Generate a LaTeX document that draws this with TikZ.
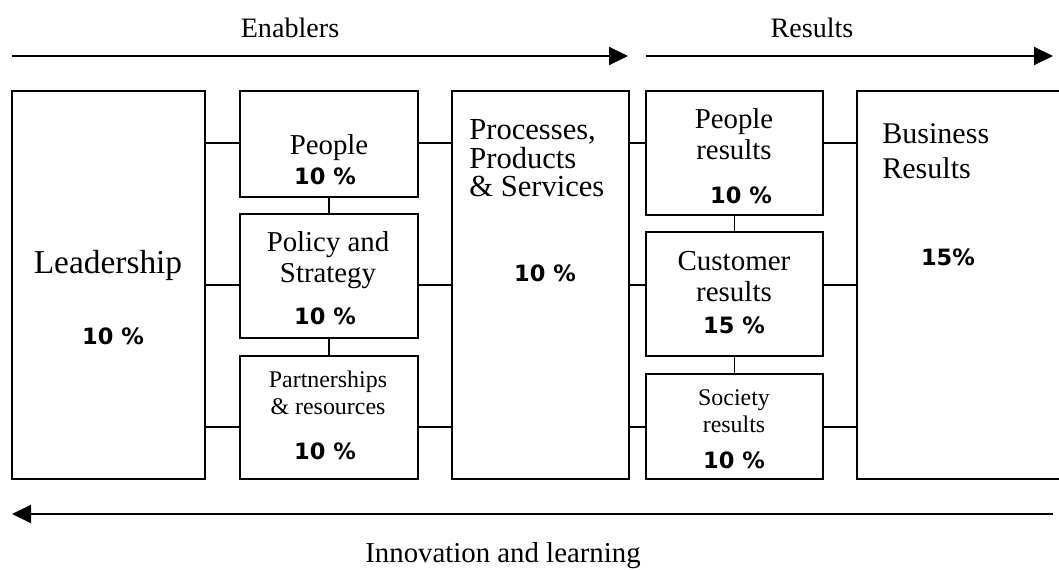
\documentclass[tikz,border=0pt]{standalone}
\usepackage{fontspec}
\setmainfont{Liberation Serif}
\newfontfamily\pctfont{DejaVu Sans}
\usetikzlibrary{arrows.meta}

\tikzset{
  block/.style={draw,line width=1.2pt,inner sep=0pt},
  link/.style={line width=1.1pt},
  flow/.style={line width=1.1pt,-{Triangle[length=0.38cm,width=0.36cm]}},
  pct/.style={font=\pctfont\bfseries\fontsize{12.8}{15}\selectfont,inner sep=0pt},
  lbl/.style={align=center,anchor=base,inner sep=0pt}
}

\begin{document}
\begin{tikzpicture}
  \path[use as bounding box,clip] (0,0) rectangle (21.18,11.4);

  % boxes
  \node[block,minimum width=3.86cm,minimum height=7.76cm] (lead) at (2.17,5.70) {};
  \node[block,minimum width=3.56cm,minimum height=2.12cm] (ppl) at (6.58,8.52) {};
  \node[block,minimum width=3.56cm,minimum height=2.48cm] (pol) at (6.58,5.88) {};
  \node[block,minimum width=3.56cm,minimum height=2.46cm] (part) at (6.58,3.05) {};
  \node[block,minimum width=3.54cm,minimum height=7.76cm] (proc) at (10.81,5.70) {};
  \node[block,minimum width=3.54cm,minimum height=2.48cm] (pres) at (14.69,8.34) {};
  \node[block,minimum width=3.54cm,minimum height=2.48cm] (cust) at (14.69,5.52) {};
  \node[block,minimum width=3.54cm,minimum height=2.10cm] (soc) at (14.69,2.87) {};
  \node[block,minimum width=4.36cm,minimum height=7.76cm] (bus) at (19.32,5.70) {};

  % texts in the boxes (base = last line)
  \node[lbl,font=\fontsize{19}{22}\selectfont] (leadtxt) at (2.16,5.92) {Leadership};
  \node[pct] (leadpct) at (2.26,4.68) {10 \%};
  \node[lbl,font=\fontsize{16.4}{18}\selectfont] (ppltxt) at (6.58,8.30) {People};
  \node[pct] (pplpct) at (6.50,7.88) {10 \%};
  \node[lbl,font=\fontsize{16.4}{18}\selectfont] (poltxt) at (6.56,5.74) {Policy and\\Strategy};
  \node[pct] (polpct) at (6.50,5.08) {10 \%};
  \node[lbl,font=\fontsize{13.6}{15.8}\selectfont] (parttxt) at (6.56,3.10) {Partnerships\\\& resources};
  \node[pct] (partpct) at (6.50,2.38) {10 \%};
  \node[lbl,align=left,anchor=base west,font=\fontsize{17.4}{16.4}\selectfont] (proctxt) at (9.38,7.46) {Processes,\\Products\\\& Services};
  \node[pct] (procpct) at (10.90,5.94) {10 \%};
  \node[lbl,font=\fontsize{16.4}{18}\selectfont] (prestxt) at (14.68,8.20) {People\\results};
  \node[pct] (prespct) at (14.82,7.50) {10 \%};
  \node[lbl,font=\fontsize{16.5}{18}\selectfont] (custtxt) at (14.68,5.36) {Customer\\results};
  \node[pct] (custpct) at (14.68,4.90) {15 \%};
  \node[lbl,font=\fontsize{13.6}{15.8}\selectfont] (soctxt) at (14.68,2.74) {Society\\results};
  \node[pct] (socpct) at (14.68,2.20) {10 \%};
  \node[lbl,align=left,anchor=base west,font=\fontsize{17.1}{20.4}\selectfont] (bustxt) at (17.64,7.82) {Business\\Results};
  \node[pct] (buspct) at (18.96,6.26) {15\%};

  % three levels of links
  \coordinate (lvl1) at (0,8.54);
  \coordinate (lvl2) at (0,5.70);
  \coordinate (lvl3) at (0,2.86);
  \foreach \a/\b/\n in {lead/ppl/1,lead/pol/2,lead/part/3,ppl/proc/1,pol/proc/2,part/proc/3,
      proc/pres/1,proc/cust/2,proc/soc/3,pres/bus/1,cust/bus/2,soc/bus/3}
    \draw[link] (lvl\n -| \a.east) -- (lvl\n -| \b.west);
  \draw[link] (ppl.south) -- (pol.north);
  \draw[link] (pol.south) -- (part.north);
  \draw[link] (pres.south) -- (cust.north);
  \draw[link] (cust.south) -- (soc.north);

  % arrows and their labels
  \coordinate (en-s) at (0.24,10.28);
  \coordinate (en-e) at (12.56,10.28);
  \coordinate (res-s) at (12.92,10.28);
  \coordinate (res-e) at (21.06,10.28);
  \coordinate (inn-s) at (21.06,1.12);
  \coordinate (inn-e) at (0.24,1.12);
  \draw[flow] (en-s) -- (en-e);
  \draw[flow] (res-s) -- (res-e);
  \draw[flow] (inn-s) -- (inn-e);
  \node[lbl,font=\fontsize{16}{18}\selectfont] (enl) at (5.80,10.64) {Enablers};
  \node[lbl,font=\fontsize{16}{18}\selectfont] (resl) at (16.24,10.64) {Results};
  \node[lbl,font=\fontsize{16.4}{18}\selectfont] (innl) at (10.06,0.14) {Innovation and learning};
\end{tikzpicture}
\end{document}
